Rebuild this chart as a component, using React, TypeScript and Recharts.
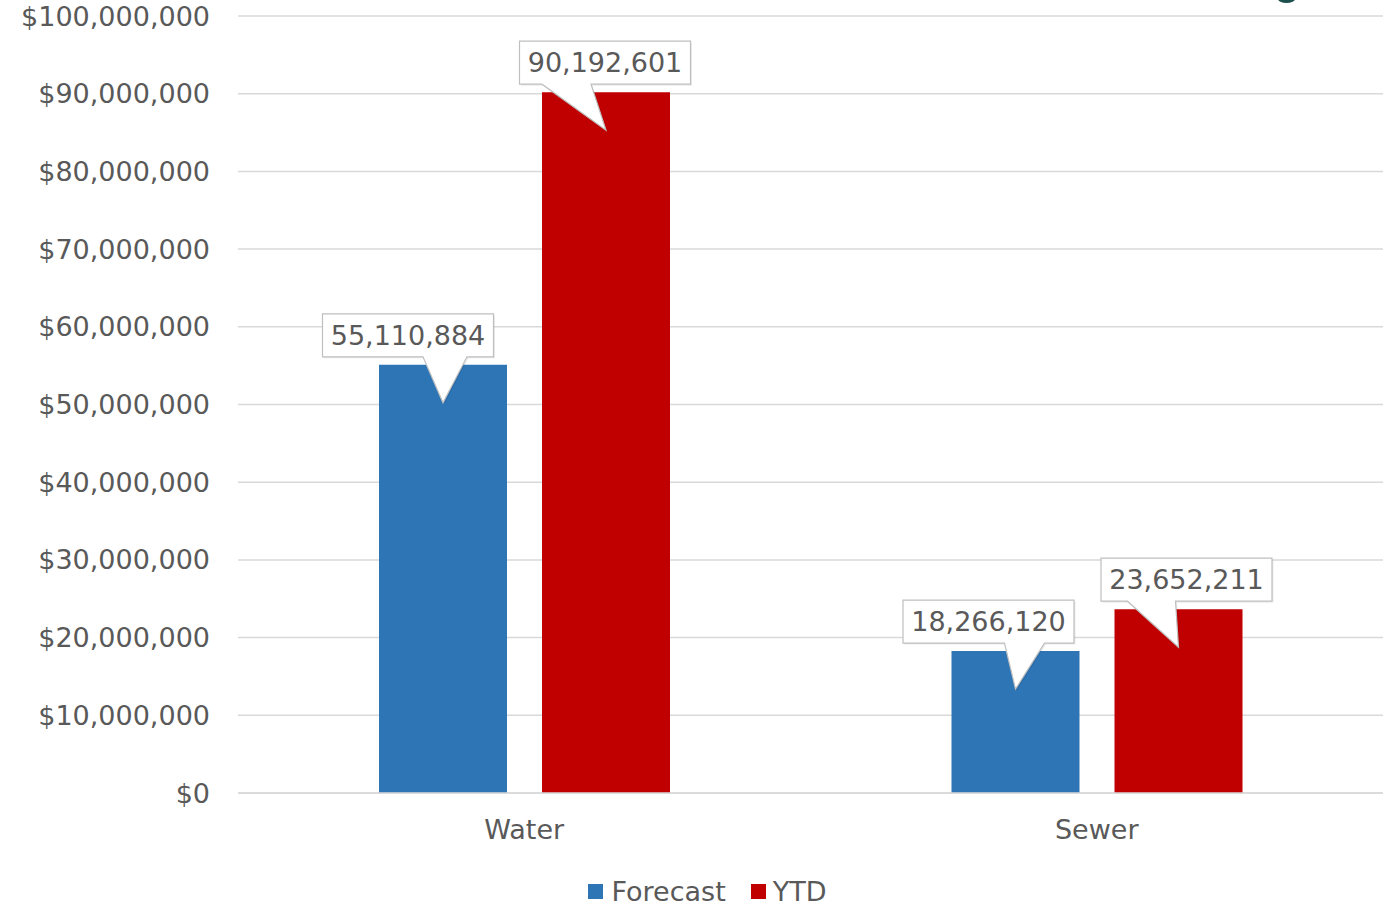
import { BarChart, Bar, XAxis, YAxis, CartesianGrid, Legend, LabelList } from 'recharts';

const categories = ['Water', 'Sewer'];
const forecast = [55110884, 18266120];
const ytd = [90192601, 23652211];
const yTicks = [0, 10000000, 20000000, 30000000, 40000000, 50000000, 60000000, 70000000, 80000000, 90000000, 100000000];

const data = categories.map((name, i) => ({ name, forecast: forecast[i], ytd: ytd[i] }));

const BLUE = '#2E75B6';
const RED = '#C00000';
const TEXT = '#595959';
const FONT = '"DejaVu Sans", sans-serif';

// callout shape tweaks: box shift, pointer base left/right relative to tip
const CALLOUT_F = [{ dx: -35, bl: -20, br: 24 }, { dx: -27, bl: -11, br: 29 }];
const CALLOUT_Y = [{ dx: -1, bl: -64, br: -15 }, { dx: 8, bl: -51, br: -3 }];

function makeCallout(shapes: { dx: number; bl: number; br: number }[]) {
  return (props: any) => {
    const { x, y, width, value, index } = props;
    const s = shapes[index] || { dx: 0, bl: -20, br: 20 };
    const text = Number(value).toLocaleString('en-US');
    const tipX = x + width / 2;
    const tipY = y + 38;
    const boxW = text.length * 15.5 + 16;
    const boxH = 43;
    const cx = tipX + s.dx;
    const L = cx - boxW / 2;
    const R = cx + boxW / 2;
    const B = y - 8;
    const T = B - boxH;
    const d = `M${L},${T} L${R},${T} L${R},${B} L${tipX + s.br},${B} L${tipX},${tipY} L${tipX + s.bl},${B} L${L},${B} Z`;
    return (
      <g>
        <path d={d} fill="#000" opacity={0.08} transform="translate(1.5,1.5)" />
        <path d={d} fill="#fff" stroke="#bfbfbf" strokeWidth={1.2} />
        <text x={cx} y={(T + B) / 2} textAnchor="middle" dominantBaseline="central" fontSize={27} fill={TEXT} fontFamily={FONT}>
          {text}
        </text>
      </g>
    );
  };
}

const renderLegend = () => (
  <div style={{ display: 'flex', justifyContent: 'center', alignItems: 'center', fontFamily: FONT, fontSize: 27, color: TEXT, paddingLeft: 32 }}>
    <span style={{ width: 15, height: 15, background: BLUE, display: 'inline-block', marginRight: 8 }} />
    <span style={{ marginRight: 25 }}>Forecast</span>
    <span style={{ width: 15, height: 15, background: RED, display: 'inline-block', marginRight: 7 }} />
    <span>YTD</span>
  </div>
);

export default function App() {
  return (
    <div style={{ position: 'absolute', left: 0, top: 0, width: 1383, height: 908, background: '#fff', fontFamily: FONT }}>
      <BarChart width={1383} height={908} data={data} margin={{ top: 16, right: 0, bottom: 85, left: 0 }} barSize={128} barGap={35}>
        <CartesianGrid vertical={false} stroke="#d9d9d9" strokeWidth={1.5} />
        <XAxis
          dataKey="name"
          axisLine={{ stroke: '#d9d9d9', strokeWidth: 1.5 }}
          tickLine={false}
          tickSize={0}
          tickMargin={27}
          tick={{ fontSize: 27, fill: TEXT, fontFamily: FONT }}
        />
        <YAxis
          width={238}
          domain={[0, 100000000]}
          ticks={yTicks}
          axisLine={false}
          tickLine={false}
          tickSize={0}
          tickMargin={28}
          tick={{ fontSize: 27, fill: TEXT, fontFamily: FONT }}
          tickFormatter={(v: number) => '$' + v.toLocaleString('en-US')}
        />
        <Legend
          verticalAlign="middle"
          layout="horizontal"
          content={renderLegend}
          wrapperStyle={{ position: 'absolute', top: 876, left: 0, width: 1383 }}
        />
        <Bar dataKey="forecast" name="Forecast" fill={BLUE} isAnimationActive={false}>
          <LabelList dataKey="forecast" content={makeCallout(CALLOUT_F)} />
        </Bar>
        <Bar dataKey="ytd" name="YTD" fill={RED} isAnimationActive={false}>
          <LabelList dataKey="ytd" content={makeCallout(CALLOUT_Y)} />
        </Bar>
      </BarChart>
      <div style={{ position: 'absolute', left: 1278, top: -5, width: 17, height: 8, borderRadius: '50%', background: '#1d4f4f' }} />
    </div>
  );
}
